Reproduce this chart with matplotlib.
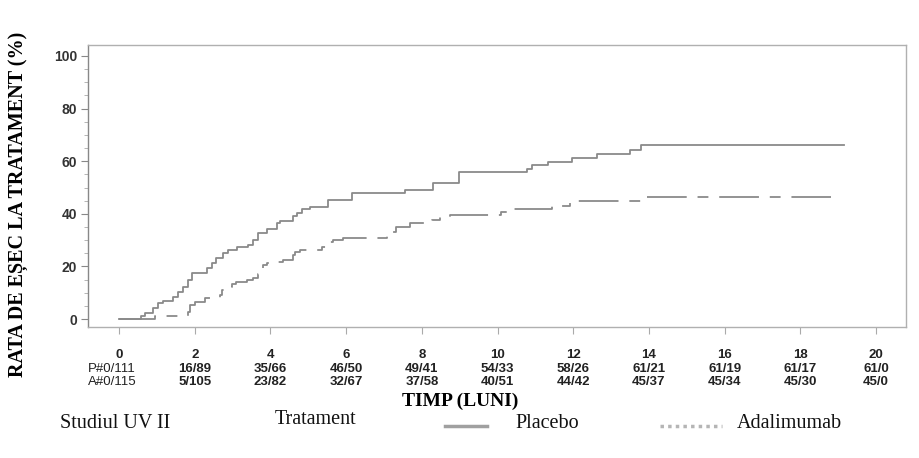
import matplotlib
matplotlib.use("Agg")
import matplotlib.pyplot as plt
from matplotlib.lines import Line2D
import matplotlib.transforms as mtransforms
import numpy as np

# Kaplan-Meier style step data (months, % failure)
placebo_t = [0, 0.57, 0.69, 0.90, 1.03, 1.16, 1.43, 1.56, 1.69, 1.82, 1.93, 2.06, 2.32,
             2.46, 2.56, 2.75, 2.88, 3.12, 3.40, 3.54, 3.67, 3.90, 4.17, 4.25, 4.60, 4.70,
             4.83, 5.05, 5.52, 6.15, 7.56, 8.29, 8.98, 10.77, 10.90, 11.33, 11.96, 12.63,
             13.50, 13.78, 19.15]
placebo_v = [0, 1.3, 2.3, 4.2, 6.0, 6.8, 8.4, 10.3, 12.2, 14.8, 17.5, 17.6, 19.5,
             21.3, 23.2, 25.2, 26.2, 27.4, 28.1, 30.0, 32.7, 34.2, 36.5, 37.3, 39.2, 40.3,
             41.8, 42.7, 45.2, 48.0, 49.0, 51.8, 55.8, 56.9, 58.6, 59.8, 61.1, 62.7,
             64.3, 66.2, 66.2]

adali_t = [0, 0.95, 1.82, 1.88, 2.00, 2.27, 2.67, 2.72, 2.80, 2.98, 3.10, 3.37, 3.55,
           3.68, 3.72, 3.81, 3.90, 4.16, 4.33, 4.60, 4.65, 4.78, 5.35, 5.49, 5.53, 5.66,
           5.92, 7.07, 7.33, 7.69, 8.26, 8.48, 8.74, 10.10, 10.33, 11.43, 11.92, 13.78, 18.8]
adali_v = [0, 1.1, 2.8, 5.3, 6.6, 8.0, 9.1, 11.0, 12.3, 13.3, 14.2, 14.8, 15.6,
           17.3, 19.3, 20.5, 21.4, 21.8, 22.4, 24.3, 25.6, 26.2, 27.5, 28.1, 29.4, 30.0,
           30.8, 33.2, 35.1, 36.4, 37.6, 38.9, 39.5, 40.8, 41.8, 43.0, 44.7, 46.5, 46.5]

# numbers at risk table
risk_months = [2, 4, 6, 8, 10, 12, 14, 16, 18, 20]
placebo_risk = ["16/89", "35/66", "46/50", "49/41", "54/33", "58/26", "61/21", "61/19", "61/17", "61/0"]
adali_risk = ["5/105", "23/82", "32/67", "37/58", "40/51", "44/42", "45/37", "45/34", "45/30", "45/0"]
placebo_row = "P#0/111"
adali_row = "A#0/115"

fig = plt.figure(figsize=(9.2, 4.58), dpi=100)
ax = fig.add_axes([0.0957, 0.286, 0.889, 0.616])

line_col = "#8a8a8a"
ax.step(placebo_t, placebo_v, where="post", color=line_col, lw=1.3)
ad, = ax.step(adali_t, adali_v, where="post", color=line_col, lw=1.3)
ad.set_dashes([22, 6, 6, 6])

ax.set_xlim(-0.82, 20.79)
ax.set_ylim(-3.0, 104.2)

for s in ax.spines.values():
    s.set_color("#b0b0b0")
    s.set_linewidth(1.0)
ax.spines["left"].set_color("#888888")

ax.set_yticks(np.arange(0, 101, 20))
ax.set_yticks(np.arange(0, 101, 5), minor=True)
ax.tick_params(axis="y", which="major", length=5, color="#888888", labelsize=10,
               labelcolor="#333333", pad=3)
ax.tick_params(axis="y", which="minor", length=3, color="#aaaaaa")
for lab in ax.get_yticklabels():
    lab.set_fontfamily("Liberation Sans")
    lab.set_fontweight("bold")

ax.set_xticks(np.arange(0, 21, 2))
ax.tick_params(axis="x", which="major", length=5, color="#aaaaaa", labelsize=9.5,
               labelcolor="#222222", pad=11)
for lab in ax.get_xticklabels():
    lab.set_fontfamily("Liberation Sans")
    lab.set_fontweight("bold")

# at-risk rows
trans = mtransforms.blended_transform_factory(ax.transData, fig.transFigure)
row_font = dict(family="Liberation Sans", fontsize=9.5, color="#222222")
for m, p, a in zip(risk_months, placebo_risk, adali_risk):
    ax.text(m, 0.194, p, transform=trans, ha="center", va="center", fontweight="bold", **row_font)
    ax.text(m, 0.165, a, transform=trans, ha="center", va="center", fontweight="bold", **row_font)
fig.text(0.0957, 0.194, placebo_row, ha="left", va="center", **row_font)
fig.text(0.0957, 0.165, adali_row, ha="left", va="center", **row_font)

fig.text(0.50, 0.124, "TIMP (LUNI)", ha="center", va="center", family="Liberation Serif",
         fontweight="bold", fontsize=14)
fig.text(0.020, 0.553, "RATA DE EȘEC LA TRATAMENT (%)", rotation=90, ha="center", va="center",
         family="Liberation Serif", fontweight="bold", fontsize=14.5)

# bottom legend
leg_font = dict(family="Liberation Serif", fontsize=14.5, color="#111111", va="center")
fig.text(0.065, 0.075, "Studiul UV II", ha="left", **leg_font)
fig.text(0.299, 0.085, "Tratament", ha="left", **leg_font)
fig.add_artist(Line2D([0.484, 0.529], [0.069, 0.069], transform=fig.transFigure,
                      color="#a0a0a0", lw=2.5))
fig.text(0.560, 0.075, "Placebo", ha="left", **leg_font)
fig.add_artist(Line2D([0.717, 0.785], [0.069, 0.069], transform=fig.transFigure,
                      color="#b5b5b5", lw=2.5, dashes=[1, 1.2]))
fig.text(0.801, 0.075, "Adalimumab", ha="left", **leg_font)

fig.savefig("out.png", dpi=100)
